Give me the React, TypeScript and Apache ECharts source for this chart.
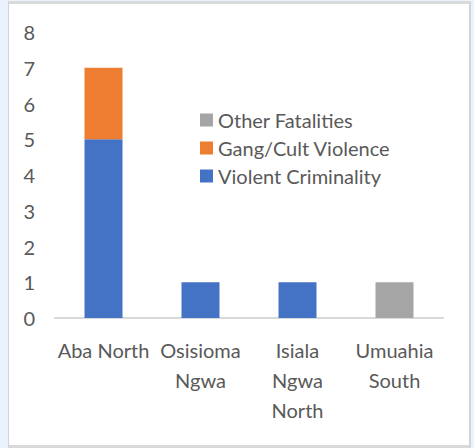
import React, { useEffect, useRef } from "react";
import * as echarts from "echarts";

const categories = ["Aba North", "Osisioma\nNgwa", "Isiala\nNgwa\nNorth", "Umuahia\nSouth"];
const violentCriminality = [5, 1, 1, 0];
const gangCultViolence = [2, 0, 0, 0];
const otherFatalities = [0, 0, 0, 1];
const legendOrder = ["Other Fatalities", "Gang/Cult Violence", "Violent Criminality"];

const FONT = "Lato, 'Open Sans', sans-serif";
const TEXT = "#595959";

export default function App() {
  const ref = useRef<HTMLDivElement>(null);
  useEffect(() => {
    document.body.style.margin = "0";
    if (!ref.current) return;
    const chart = echarts.init(ref.current, undefined, { renderer: "svg" });
    const z = (arr: number[]) => arr.map((v) => (v === 0 ? null : v));
    chart.setOption({
      animation: false,
      textStyle: { fontFamily: FONT },
      grid: { left: 55, right: 31, top: 32, bottom: 130, containLabel: false },
      legend: {
        data: legendOrder,
        orient: "vertical",
        left: 195,
        top: 105,
        itemWidth: 13,
        itemHeight: 13,
        itemGap: 8,
        icon: "rect",
        textStyle: { fontSize: 20, color: TEXT, fontFamily: FONT },
      },
      xAxis: {
        type: "category",
        data: categories,
        axisLine: { lineStyle: { color: "#d9d9d9", width: 2 } },
        axisTick: { show: false },
        axisLabel: {
          color: TEXT,
          fontSize: 20,
          lineHeight: 30,
          margin: 17,
          interval: 0,
          fontFamily: FONT,
        },
      },
      yAxis: {
        type: "value",
        min: 0,
        max: 8,
        interval: 1,
        splitLine: { show: false },
        axisLine: { show: false },
        axisTick: { show: false },
        axisLabel: { color: TEXT, fontSize: 20, margin: 20, fontFamily: FONT },
      },
      series: [
        {
          name: "Violent Criminality",
          type: "bar",
          stack: "s",
          barWidth: 38,
          data: z(violentCriminality),
          itemStyle: { color: "#4472C4" },
        },
        {
          name: "Gang/Cult Violence",
          type: "bar",
          stack: "s",
          barWidth: 38,
          data: z(gangCultViolence),
          itemStyle: { color: "#ED7D31" },
        },
        {
          name: "Other Fatalities",
          type: "bar",
          stack: "s",
          barWidth: 38,
          data: z(otherFatalities),
          itemStyle: { color: "#A5A5A5" },
        },
      ],
    });
    return () => chart.dispose();
  }, []);

  return (
    <div
      style={{
        position: "fixed",
        left: 0,
        top: 0,
        width: 474,
        height: 448,
        background: "#eaf3fd",
      }}
    >
      <div
        style={{
          position: "absolute",
          left: 8,
          top: 1,
          width: 460,
          height: 441,
          background: "#ffffff",
          borderLeft: "1px solid #d4d4d4",
          borderTop: "3px solid #dadada",
          borderRight: "2px solid #d4d4d4",
          borderBottom: "4px solid #d9d9d9",
        }}
      />
      <div ref={ref} style={{ position: "absolute", left: 0, top: 0, width: 474, height: 448 }} />
    </div>
  );
}
